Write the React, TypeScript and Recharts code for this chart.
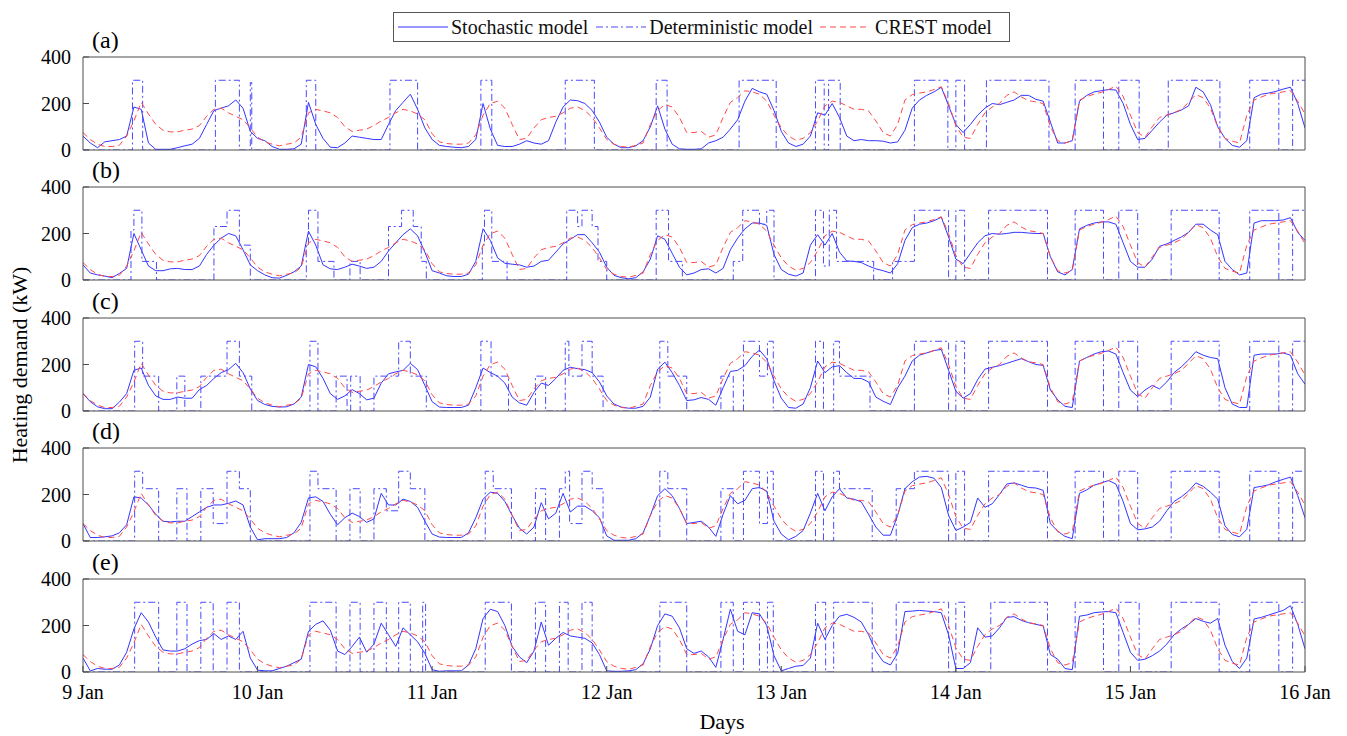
import React from 'react';
import { LineChart, Line, XAxis, YAxis, Legend } from 'recharts';

const FONT = "'Liberation Serif', 'Times New Roman', serif";

const dayLabels = ['9 Jan', '10 Jan', '11 Jan', '12 Jan', '13 Jan', '14 Jan', '15 Jan', '16 Jan'];
const dayTicks = [0, 24, 48, 72, 96, 120, 144, 168];
const yTicks = [0, 200, 400];
const panelLabels = ['(a)', '(b)', '(c)', '(d)', '(e)'];
const seriesNames = ['Stochastic model', 'Deterministic model', 'CREST model'];

// CREST model (hourly, kW) - same in every panel
const crest = [
  75, 45, 25, 15, 15, 20, 60, 125, 205, 155, 110, 85,
  78, 78, 85, 90, 105, 145, 175, 180, 160, 145, 130, 95,
  55, 35, 25, 18, 25, 30, 55, 160, 175, 168, 160, 140,
  100, 80, 85, 90, 105, 125, 140, 160, 175, 168, 155, 130,
  70, 35, 28, 25, 25, 30, 65, 150, 200, 210, 180, 110,
  45, 50, 95, 130, 140, 145, 160, 180, 185, 170, 140, 95,
  45, 25, 15, 12, 20, 30, 110, 170, 195, 185, 140, 75,
  75, 80, 55, 65, 140, 205, 225, 255, 250, 240, 210, 150,
  95, 60, 42, 50, 75, 125, 190, 210, 205, 190, 175, 175,
  168, 125, 75, 60, 110, 215, 238, 245, 250, 260, 272, 200,
  105, 55, 50, 110, 160, 185, 200, 235, 250, 228, 212, 207,
  200, 100, 40, 30, 40, 215, 230, 240, 248, 260, 275, 230,
  150, 75, 55, 100, 140, 150, 160, 175, 205, 238, 225, 180,
  100, 50, 38, 30, 150, 215, 228, 240, 245, 250, 255, 210,
  155,
];

// Stochastic model (hourly, kW), panels (a)-(e)
const stochA = [
  60, 30, 10, 35, 40, 45, 60, 185, 175, 30, 3, 3,
  3, 10, 18, 25, 50, 110, 170, 180, 190, 215, 180, 80,
  50, 40, 15, 3, 3, 5, 25, 205, 110, 50, 12, 10,
  30, 60, 55, 50, 45, 45, 110, 170, 205, 240, 175, 95,
  45, 20, 15, 12, 10, 15, 45, 200, 90, 20, 15, 15,
  25, 40, 30, 25, 40, 120, 185, 215, 212, 200, 170, 120,
  55, 25, 10, 10, 18, 40, 100, 190, 90, 25, 5, 3,
  3, 5, 30, 40, 55, 90, 130, 210, 265, 250, 240, 170,
  80, 30, 15, 25, 60, 160, 150, 200, 140, 60, 40, 45,
  40, 40, 38, 30, 35, 85, 180, 215, 235, 250, 270, 190,
  110, 75, 110, 150, 180, 200, 195, 205, 215, 235, 235, 218,
  210, 120, 30, 30, 40, 210, 235, 250, 255, 260, 258, 200,
  110, 45, 50, 85, 120, 150, 160, 172, 190, 270, 250, 195,
  100, 50, 20, 12, 40, 225, 240, 245, 252, 262, 270, 200,
  95,
];
const stochB = [
  65, 30, 22, 17, 10, 28, 50, 200, 130, 60, 40, 40,
  48, 50, 45, 45, 60, 110, 150, 180, 200, 190, 130, 65,
  40, 22, 10, 8, 20, 35, 60, 210, 150, 65, 48, 45,
  55, 68, 60, 50, 55, 80, 125, 160, 195, 220, 190, 120,
  40, 30, 18, 15, 15, 25, 80, 220, 170, 95, 72, 68,
  65, 55, 60, 80, 85, 120, 155, 175, 195, 195, 160, 120,
  55, 20, 10, 5, 10, 35, 90, 190, 175, 115, 55, 22,
  30, 45, 48, 30, 50, 130, 180, 220, 245, 245, 235, 110,
  45, 25, 17, 30, 150, 195, 150, 200, 120, 82, 80, 75,
  60, 48, 40, 30, 70, 170, 225, 240, 245, 255, 270, 185,
  90, 70, 115, 160, 190, 200, 197, 200, 205, 205, 202, 200,
  200, 100, 35, 22, 45, 220, 235, 245, 250, 250, 240, 160,
  80, 55, 55, 90, 145, 155, 170, 185, 205, 240, 240, 215,
  195, 80, 45, 22, 30, 245, 255, 255, 255, 258, 268, 205,
  170,
];
const stochC = [
  75, 40, 18, 10, 10, 38, 75, 175, 185, 110, 65, 50,
  50, 60, 55, 55, 92, 110, 140, 165, 178, 205, 165, 95,
  45, 28, 20, 17, 18, 30, 60, 200, 190, 140, 75, 50,
  65, 92, 75, 48, 55, 120, 160, 168, 175, 205, 178, 110,
  40, 17, 15, 15, 15, 25, 100, 185, 165, 150, 120, 60,
  35, 25, 80, 120, 110, 140, 175, 188, 182, 178, 165, 125,
  65, 30, 17, 12, 12, 20, 60, 180, 210, 165, 110, 45,
  48, 58, 50, 25, 100, 170, 175, 195, 235, 262, 225, 130,
  55, 15, 12, 30, 100, 215, 165, 190, 195, 165, 140, 140,
  125, 60, 42, 28, 100, 150, 215, 240, 250, 260, 265, 175,
  85, 55, 75, 135, 180, 188, 195, 205, 215, 225, 212, 200,
  196, 90, 48, 20, 15, 215, 230, 245, 255, 258, 245, 165,
  90, 62, 90, 110, 95, 125, 165, 190, 220, 255, 240, 230,
  225, 100, 30, 15, 15, 240, 245, 245, 245, 250, 240, 160,
  115,
];
const stochD = [
  75, 15, 15, 18, 22, 35, 70, 190, 185, 155, 115, 85,
  82, 85, 85, 105, 125, 145, 155, 155, 162, 172, 155, 60,
  5, 10, 10, 10, 15, 35, 80, 185, 190, 170, 115, 70,
  100, 120, 105, 80, 95, 205, 155, 155, 180, 170, 145, 85,
  30, 17, 15, 15, 15, 35, 100, 180, 210, 205, 170, 110,
  55, 30, 60, 165, 95, 120, 205, 125, 150, 150, 130, 100,
  22, 3, 3, 3, 10, 35, 110, 195, 225, 195, 140, 75,
  80, 85, 60, 20, 115, 195, 160, 175, 225, 230, 215, 85,
  30, 5, 20, 45, 120, 205, 130, 190, 225, 185, 180, 168,
  115, 60, 25, 25, 110, 225, 255, 275, 278, 270, 230, 110,
  45, 60, 80, 185, 145, 160, 200, 245, 250, 240, 230, 228,
  218, 75, 42, 20, 10, 205, 220, 240, 250, 260, 245, 170,
  75, 48, 52, 60, 85, 130, 170, 190, 215, 250, 235, 210,
  180, 65, 28, 18, 50, 230, 235, 242, 255, 265, 275, 195,
  100,
];
const stochE = [
  60, 5, 15, 12, 12, 30, 85, 185, 255, 215, 150, 95,
  90, 90, 100, 120, 135, 140, 165, 140, 155, 140, 175, 60,
  8, 5, 5, 15, 25, 40, 55, 175, 205, 220, 180, 90,
  75, 110, 150, 85, 120, 210, 160, 110, 190, 160, 130, 80,
  10, 3, 5, 5, 5, 30, 100, 230, 270, 260, 200, 110,
  65, 40, 90, 215, 115, 145, 170, 155, 150, 145, 125, 75,
  5, 3, 3, 5, 10, 35, 100, 200, 250, 240, 190, 100,
  80, 90, 65, 20, 140, 270, 175, 160, 255, 250, 200, 70,
  5, 15, 25, 28, 60, 210, 140, 200, 240, 248, 235, 215,
  160, 90, 45, 30, 80, 260, 262, 265, 262, 260, 255, 160,
  15, 15, 40, 190, 150, 155, 190, 235, 238, 222, 212, 205,
  198, 75, 55, 15, 10, 240, 245, 255, 258, 260, 255, 170,
  85, 50, 55, 70, 90, 120, 160, 185, 205, 230, 218, 210,
  230, 115, 45, 15, 60, 228, 235, 245, 255, 265, 285, 205,
  100,
];

// Deterministic model: [hour at which the level starts, level kW]
const detA = [
  [0, 0], [6.8, 300], [8.2, 0], [18.2, 300], [21.5, 0], [23.0, 290], [23.2, 0],
  [30.7, 300], [32, 0], [42.2, 300], [46, 0], [54.7, 300], [56.2, 0], [66.3, 300], [70.3, 0],
  [78.8, 300], [80.3, 0], [90.2, 300], [95.3, 0], [100.7, 300], [101.9, 0], [102.5, 300], [104.1, 0],
  [114.3, 300], [118.9, 0], [120, 300], [121.2, 0], [124.2, 300], [132.8, 0], [136.4, 300], [140.3, 0],
  [142.4, 300], [145.2, 0], [149.2, 300], [156.3, 0], [160.4, 300], [164.4, 0], [166.3, 300], [168, 300],
];
const detB = [
  [0, 0], [6.6, 215], [7.0, 300], [8.1, 80], [10.1, 0], [18.0, 230], [19.8, 300], [21.5, 150], [23.0, 0],
  [30.7, 150], [31.0, 300], [32.3, 80], [34.5, 0], [36.7, 80], [38.1, 0], [42, 230], [43.8, 300], [45.4, 230],
  [46.5, 80], [47.2, 0], [54.9, 150], [55.2, 300], [56.2, 80], [58.3, 0], [66.5, 300], [68, 230], [68.6, 300],
  [70, 230], [70.8, 80], [72, 0], [78.8, 300], [80.5, 80], [82.4, 0], [89.4, 80], [90.7, 300], [93, 240],
  [94, 300], [95, 0], [100.7, 300], [101.8, 60], [102.6, 300], [103.6, 80], [108.7, 0], [111.3, 80],
  [114.3, 300], [119, 0], [120, 300], [121.2, 0], [124.5, 300], [132.6, 0], [136.4, 300], [140.3, 0],
  [142.4, 300], [145, 0], [149.6, 300], [156.2, 0], [160.4, 300], [164.4, 0], [166.3, 300], [168, 300],
];
const detC = [
  [0, 0], [7.1, 300], [8.2, 150], [10.4, 0], [12.9, 150], [14, 0], [16.2, 150], [19.8, 300], [21.5, 150],
  [23.2, 0], [31.2, 300], [32.3, 0], [34.8, 150], [36.3, 0], [36.8, 150], [38.1, 0], [40, 150], [43.4, 300],
  [45, 150], [47.2, 0], [54.7, 300], [56.1, 150], [58.5, 0], [62.2, 150], [63.6, 0], [66.3, 300], [66.8, 150],
  [68.6, 300], [70, 150], [71.5, 0], [79.3, 300], [80.4, 150], [83, 0], [87.7, 150], [89.4, 0], [90.8, 300],
  [93, 150], [94.1, 300], [94.9, 0], [100.7, 300], [101.8, 0], [103.2, 300], [104, 150], [108.2, 0],
  [114.3, 300], [119, 0], [120, 300], [121.2, 0], [124.5, 300], [132.6, 0], [136.4, 300], [140.3, 0],
  [142.4, 300], [145, 0], [149.6, 300], [156.2, 0], [160.4, 300], [164.4, 0], [166.3, 300], [168, 300],
];
const detD = [
  [0, 0], [7.1, 300], [8.2, 225], [10.4, 0], [12.9, 225], [14.3, 0], [16.2, 225], [17.9, 75], [19.8, 300],
  [21.5, 225], [23, 0], [31.2, 300], [32.3, 225], [34.8, 0], [36.7, 225], [38.1, 0], [40, 225], [41.7, 130],
  [43.4, 300], [45, 225], [47, 0], [55.3, 300], [56.4, 225], [58.9, 0], [62.2, 225], [63.6, 0], [65.5, 225],
  [66.3, 300], [66.9, 75], [68.6, 300], [70, 225], [71.5, 0], [79.3, 300], [80.4, 225], [83, 0], [87.7, 225],
  [89.4, 0], [90.8, 300], [93, 75], [94.1, 300], [94.9, 0], [100.7, 300], [101.8, 0], [103.2, 300], [104, 225],
  [108.5, 0], [111.8, 225], [114.3, 300], [119, 0], [120, 300], [121.2, 0], [124.5, 300], [132.6, 0],
  [136.4, 300], [140.3, 0], [142.4, 300], [145, 0], [149.6, 300], [156.2, 0], [160.4, 300], [164.4, 0],
  [166.3, 300], [168, 300],
];
const detE = [
  [0, 0], [7.1, 300], [10.4, 0], [12.9, 300], [14.3, 0], [16.2, 300], [17.9, 0], [19.8, 300], [21.5, 0],
  [31.2, 300], [34.8, 0], [36.7, 300], [38.1, 0], [40, 300], [41.7, 0], [43.4, 300], [45, 0], [46.7, 300],
  [47.1, 0], [55.3, 300], [58.9, 0], [62.2, 300], [63.6, 0], [65.5, 300], [66.7, 0], [68.6, 300], [70, 0],
  [79.3, 300], [83, 0], [87.7, 300], [89.4, 0], [90.8, 300], [93, 0], [94.1, 300], [94.9, 0], [100.7, 300],
  [102.1, 0], [103.2, 300], [108.5, 0], [111.8, 300], [119, 0], [120, 300], [121.2, 0], [124.8, 300],
  [132.6, 0], [136.4, 300], [140.3, 0], [142.4, 300], [145.2, 0], [149.6, 300], [156.2, 0], [160.4, 300],
  [164.4, 0], [166.3, 300], [168, 300],
];

const stochSets = [stochA, stochB, stochC, stochD, stochE];
const detSets = [detA, detB, detC, detD, detE];

const PLOT_TOPS = [57, 187, 318, 448, 579];
const PLOT_H = 93;
const M_TOP = 14;
const X_H = 36;

const BLUE = '#3535ff';
const BLUE_DD = '#4a4aff';
const RED = '#ff4a4a';
const AXIS = '#4d4d4d';

const LegendBox = () => (
  <div
    style={{
      boxSizing: 'border-box', width: 617, height: 30, border: '1px solid #555', background: '#fff',
      display: 'flex', alignItems: 'center', fontFamily: FONT, fontSize: 20, color: '#111', paddingLeft: 4,
      whiteSpace: 'nowrap',
    }}
  >
    <svg width={50} height={10}><line x1={0} x2={50} y1={5} y2={5} stroke={BLUE} strokeWidth={1.2} /></svg>
    <span style={{ marginLeft: 3 }}>{seriesNames[0]}</span>
    <svg width={50} height={10} style={{ marginLeft: 8 }}>
      <line x1={0} x2={50} y1={5} y2={5} stroke={BLUE_DD} strokeWidth={1.2} strokeDasharray="7 3 2 3" />
    </svg>
    <span style={{ marginLeft: 3 }}>{seriesNames[1]}</span>
    <svg width={50} height={10} style={{ marginLeft: 7 }}>
      <line x1={0} x2={50} y1={5} y2={5} stroke={RED} strokeWidth={1.2} strokeDasharray="6 4" />
    </svg>
    <span style={{ marginLeft: 5 }}>{seriesNames[2]}</span>
  </div>
);

function Panel({ idx }: { idx: number }) {
  const stoch = stochSets[idx];
  const rows = crest.map((c, h) => ({ t: h, s: stoch[h], c }));
  const detRows = detSets[idx].map(([t, v]) => ({ t, d: v }));
  const last = idx === 4;
  const top = PLOT_TOPS[idx] - M_TOP - 1;
  return (
    <div style={{ position: 'absolute', left: 0, top }}>
      <LineChart
        width={1347}
        height={PLOT_H + M_TOP + 1 + X_H}
        data={rows}
        margin={{ top: M_TOP, right: 41, bottom: 0, left: 0 }}
      >
        <XAxis
          xAxisId="b"
          dataKey="t"
          type="number"
          domain={[0, 168]}
          allowDataOverflow
          ticks={dayTicks}
          interval={0}
          height={X_H}
          stroke={AXIS}
          tickSize={-6}
          tickMargin={19}
          tickFormatter={(v: number) => dayLabels[Math.round(v / 24)]}
          tick={last ? { fill: '#000', fontSize: 20, fontFamily: FONT } : false}
        />
        <XAxis
          xAxisId="top"
          orientation="top"
          dataKey="t"
          type="number"
          domain={[0, 168]}
          allowDataOverflow
          ticks={dayTicks}
          interval={0}
          height={1}
          stroke={AXIS}
          tickSize={-6}
          tick={false}
        />
        <YAxis
          yAxisId="l"
          type="number"
          domain={[0, 400]}
          allowDataOverflow
          ticks={yTicks}
          interval={0}
          width={83}
          stroke={AXIS}
          tickSize={-6}
          tickMargin={18}
          tick={{ fill: '#000', fontSize: 20, fontFamily: FONT }}
        />
        <YAxis
          yAxisId="r"
          orientation="right"
          type="number"
          domain={[0, 400]}
          allowDataOverflow
          ticks={yTicks}
          interval={0}
          width={1}
          stroke={AXIS}
          tickSize={-6}
          tick={false}
        />
        {idx === 0 && (
          <Legend
            layout="horizontal"
            verticalAlign="middle"
            align="center"
            wrapperStyle={{ left: 393, top: 12 - top, width: 617, height: 30 }}
            content={() => <LegendBox />}
          />
        )}
        <Line
          xAxisId="b" yAxisId="l" dataKey="s" name={seriesNames[0]} type="linear"
          stroke={BLUE} strokeWidth={1} dot={false} activeDot={false} isAnimationActive={false}
        />
        <Line
          xAxisId="b" yAxisId="l" data={detRows} dataKey="d" name={seriesNames[1]} type="stepAfter"
          stroke={BLUE_DD} strokeWidth={1} strokeDasharray="7 3 2 3" dot={false} activeDot={false}
          isAnimationActive={false}
        />
        <Line
          xAxisId="b" yAxisId="l" dataKey="c" name={seriesNames[2]} type="linear"
          stroke={RED} strokeWidth={1} strokeDasharray="6 4" dot={false} activeDot={false}
          isAnimationActive={false}
        />
      </LineChart>
    </div>
  );
}

export default function App() {
  return (
    <div style={{ position: 'absolute', left: 0, top: 0, width: 1347, height: 736, background: '#fff', overflow: 'hidden' }}>
      {[0, 1, 2, 3, 4].map((i) => (
        <Panel key={i} idx={i} />
      ))}
      {panelLabels.map((lab, i) => (
        <div
          key={lab}
          style={{
            position: 'absolute', left: 92, top: PLOT_TOPS[i] - 31, fontFamily: FONT, fontSize: 24,
            lineHeight: '28px', color: '#000',
          }}
        >
          {lab}
        </div>
      ))}
      <div
        style={{
          position: 'absolute', left: 20, top: 365, transform: 'translate(-50%, -50%) rotate(-90deg)',
          fontFamily: FONT, fontSize: 22, whiteSpace: 'nowrap', color: '#000',
        }}
      >
        Heating demand (kW)
      </div>
      <div
        style={{
          position: 'absolute', left: 722, top: 722, transform: 'translate(-50%, -50%)',
          fontFamily: FONT, fontSize: 22, whiteSpace: 'nowrap', color: '#000',
        }}
      >
        Days
      </div>
    </div>
  );
}
